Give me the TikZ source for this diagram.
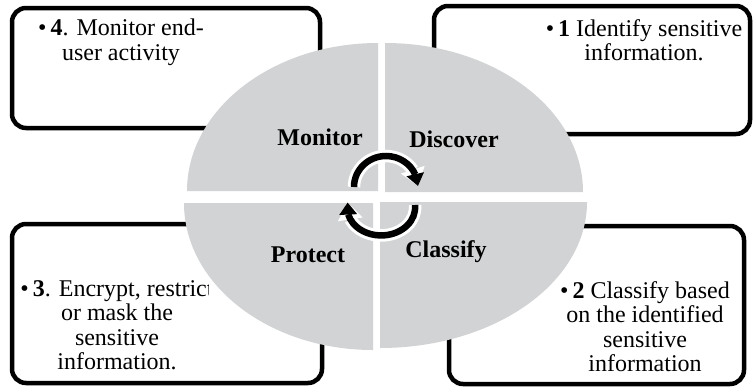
\documentclass[tikz,border=0pt]{standalone}
\usepackage{fontspec}
\setmainfont{Liberation Serif}
\usetikzlibrary{arrows.meta, bending}
\definecolor{grisSector}{HTML}{D1D3D4}
\colorlet{colBorde}{black}
\tikzset{
  cajaMarco/.style={draw=colBorde, line width=4.5pt, rounded corners=14pt, fill=white},
  textoCaja/.style={align=center, inner sep=0pt, anchor=north,
    font=\fontsize{24}{24.5}\selectfont},
  etiquetaSector/.style={inner sep=0pt, font=\fontsize{24}{26}\selectfont\bfseries},
  sectorGris/.style={fill=grisSector},
  flechaFondo/.style={draw=white, line width=12.5pt,
    -{Triangle[length=17pt, width=25pt, line width=0pt]}},
  flechaCiclo/.style={draw=black, line width=6.5pt,
    -{Triangle[length=12pt, width=18pt, line width=0pt]}},
}
\begin{document}
\begin{tikzpicture}[x=1pt, y=-1pt]
    \useasboundingbox (0,0) rectangle (754,389);
    % cajas exteriores
    \draw[cajaMarco] (12,8) rectangle (320,128);
    \draw[cajaMarco] (434,6) rectangle (750,134);
    \draw[cajaMarco] (12,224) rectangle (322,383);
    \draw[cajaMarco] (449,226) rectangle (744,384);
    \node[textoCaja] (txtMonitor) at (121,19) {\textbullet\,\textbf{4}. Monitor end-\\user activity};
    \node[textoCaja] (txtDescubrir) at (644,19) {\textbullet\,\textbf{1} Identify sensitive\\information.};
    \begin{scope}
      \clip (14,226) rectangle (208,381);
      \node[textoCaja] (txtProteger) at (117,280) {\textbullet\,\textbf{3}. Encrypt, restrict\\or mask the\\sensitive\\information.};
    \end{scope}
    \node[textoCaja] (txtClasificar) at (645,281) {\textbullet\,\textbf{2} Classify based\\on the identified\\sensitive\\information};
    % sectores del circulo
    \fill[sectorGris] (378,191) -- (187,191) arc[start angle=180, end angle=270, x radius=191, y radius=148] -- cycle;
    \fill[sectorGris] (385,192) -- (385,43) arc[start angle=270, end angle=360, x radius=198, y radius=149] -- cycle;
    \fill[sectorGris] (380,202) -- (587,202) arc[start angle=0, end angle=90, x radius=207, y radius=146] -- cycle;
    \fill[sectorGris] (373,203) -- (373,350) arc[start angle=90, end angle=180, x radius=189, y radius=147] -- cycle;
    \node[etiquetaSector] (lblMonitor) at (320,137) {Monitor};
    \node[etiquetaSector] (lblDiscover) at (454,139) {Discover};
    \node[etiquetaSector] (lblProtect) at (308,255) {Protect};
    \node[etiquetaSector] (lblClassify) at (446,252) {Classify};
    % flechas del ciclo
    \draw[flechaFondo] (354,187) arc[start angle=180, end angle=358, x radius=32, y radius=31];
    \draw[flechaCiclo] (354,187) arc[start angle=180, end angle=358, x radius=32, y radius=31];
    \draw[flechaFondo] (415,205) arc[start angle=-5, end angle=190, x radius=34, y radius=28];
    \draw[flechaCiclo] (415,205) arc[start angle=-5, end angle=190, x radius=34, y radius=28];
\end{tikzpicture}
\end{document}
